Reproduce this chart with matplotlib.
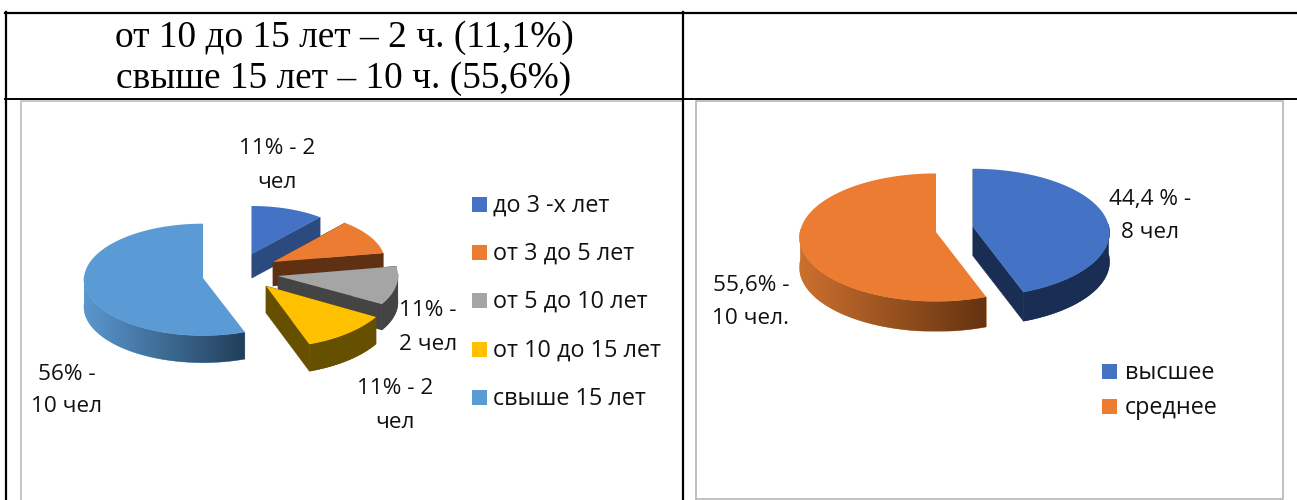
import numpy as np
import matplotlib
matplotlib.use("Agg")
import matplotlib.pyplot as plt
from matplotlib.patches import Rectangle, Polygon

# data
header_lines = ["от 10 до 15 лет – 2 ч. (11,1%)", "свыше 15 лет – 10 ч. (55,6%)"]
exp_categories = ["до 3 -х лет", "от 3 до 5 лет", "от 5 до 10 лет", "от 10 до 15 лет", "свыше 15 лет"]
exp_values = [2, 2, 2, 2, 10]
edu_categories = ["высшее", "среднее"]
edu_values = [8, 10]

# colours: top, side at left, side at right
exp_colors = [("#4472C4", "#2A4A80", "#2A4A80"), ("#EB7C31", "#5F3011", "#5F3011"),
              ("#A5A5A5", "#444444", "#444444"), ("#FFC000", "#665000", "#665000"),
              ("#5B9BD5", "#5A97CE", "#223F5A")]
edu_colors = [("#4472C4", "#1A2E54", "#1A2E54"), ("#EB7C31", "#CB702E", "#643310")]

# per slice layout in pixels: cx, cy, rx, ry, depth, perspective
exp_layout = [(252, 254, 106, 48, 24, 0.0), (273, 262, 112, 51, 24, 0.0),
              (278, 276, 120, 56, 26, 0.0), (266, 286, 127, 62, 27, 0.0),
              (203, 278, 119, 56, 27, 0.03)]
edu_layout = [(973, 227, 136, 64, 29, 0.09), (936, 232, 136, 64, 30, 0.085)]


def draw_slice(ax, start, sweep, layout, colors):
    cx, cy, rx, ry, depth, p = layout
    th = np.radians(np.linspace(start, start + sweep, 240))
    s = 1 - p * np.cos(th)
    xs = cx + rx * np.sin(th) * s
    ys = cy - ry * np.cos(th) * s

    # cut faces, only the ones turned to the viewer
    for k in (0, -1):
        facing = (k == 0 and sweep < 180) or (k == -1 and start + sweep < 180)
        if facing:
            ax.fill([cx, xs[k], xs[k], cx], [cy, ys[k], ys[k] + depth, cy + depth],
                    color=colors[1], lw=0.3, zorder=2)

    # outer wall, gradient image clipped to the wall shape
    near = np.cos(th) < 0.05
    if near.any():
        wx, wy = xs[near], ys[near]
        wall = Polygon(np.c_[np.r_[wx, wx[::-1]], np.r_[wy, wy[::-1] + depth]],
                       closed=True, color=colors[1], lw=0.3, zorder=2)
        ax.add_patch(wall)
        c1 = np.array(matplotlib.colors.to_rgb(colors[1]))
        c2 = np.array(matplotlib.colors.to_rgb(colors[2]))
        ramp = np.linspace(0, 1, 128)[None, :, None]
        img = ax.imshow(c1 + (c2 - c1) * ramp, aspect="auto", zorder=2,
                        extent=(wx.min(), wx.max(), wy.max() + depth, wy.min()))
        img.set_clip_path(wall)

    ax.fill(np.r_[cx, xs], np.r_[cy, ys], color=colors[0], lw=0, zorder=2)


def draw_pie(ax, values, layouts, colors, order):
    total = sum(values)
    starts = np.cumsum([0] + list(values))[:-1] / total * 360
    for i in order:
        draw_slice(ax, starts[i], values[i] / total * 360, layouts[i], colors[i])


fig = plt.figure(figsize=(12.97, 5.0), dpi=100)
ax = fig.add_axes([0, 0, 1, 1])

draw_pie(ax, exp_values, exp_layout, exp_colors, [4, 0, 1, 2, 3])
draw_pie(ax, edu_values, edu_layout, edu_colors, [0, 1])

ax.set_xlim(0, 1297)
ax.set_ylim(500, 0)
ax.axis("off")

# chart frames
ax.plot([21, 21, 683], [500, 100.5, 100.5], color="#BDBDBD", lw=1.2)
ax.plot([696, 696, 1283, 1283, 696], [499, 100.5, 100.5, 499, 499], color="#B5B5B5", lw=1.2)

# table rules
ax.plot([5, 1297], [12.5, 12.5], color="black", lw=1.6)
ax.plot([5, 1297], [98.5, 98.5], color="black", lw=1.4)
ax.plot([6, 6], [12, 500], color="black", lw=1.6)
ax.plot([683, 683], [12, 500], color="black", lw=1.6)

serif = "Liberation Serif"
sans = "Open Sans"
ax.text(344, 38, header_lines[0], family=serif, fontsize=26.9, ha="center", va="center")
ax.text(344, 79, header_lines[1], family=serif, fontsize=26.9, ha="center", va="center")

labels = [(277, 149, "11% - 2"), (277, 182, "чел"), (428, 311, "11% -"), (428, 345, "2 чел"),
          (395, 389, "11% - 2"), (395, 423, "чел"), (67, 374, "56% -"), (67, 406, "10 чел"),
          (1150, 199, "44,4 % -"), (1150, 233, "8 чел"), (751, 286, "55,6% -"), (751, 318, "10 чел.")]
for x, y, s in labels:
    ax.text(x, y, s, family=sans, fontsize=16.2, ha="center", va="center", color="#111111")

for y, name, col in zip((204.5, 252.5, 300.5, 349, 397.5), exp_categories, exp_colors):
    ax.add_patch(Rectangle((472, y - 7.5), 15, 15, color=col[0], lw=0))
    ax.text(493, y + 1.5, name, family=sans, fontsize=16.8, va="center", color="#111111")
for y, name, col in zip((371.5, 406.5), edu_categories, edu_colors):
    ax.add_patch(Rectangle((1102, y - 7.5), 15, 15, color=col[0], lw=0))
    ax.text(1125, y + 1.5, name, family=sans, fontsize=16.8, va="center", color="#111111")

fig.savefig("out.png", dpi=100)
